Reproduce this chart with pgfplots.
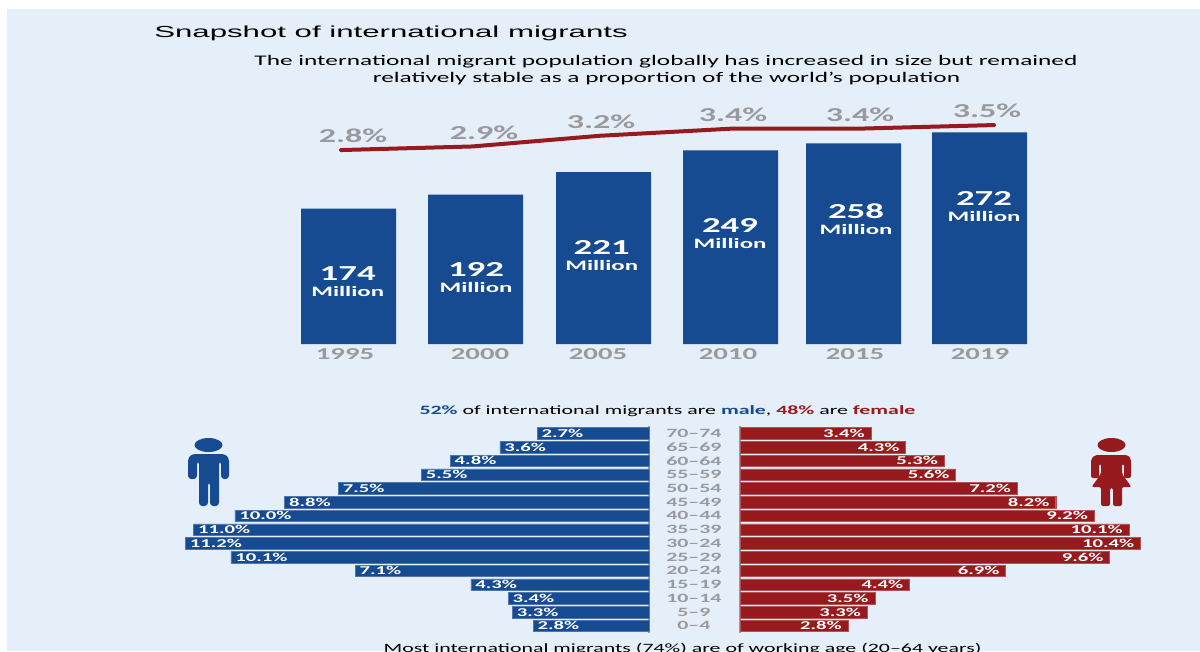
\documentclass[border=0pt]{standalone}
\usepackage{fontspec}
\usepackage{pgfplots}
\usepackage{pgfplotstable}
\pgfplotsset{compat=1.18}
\setmainfont[FakeStretch=1.725]{Carlito}
\newfontfamily\headfont[FakeStretch=1.95]{Liberation Sans}
\definecolor{panel}{HTML}{E4EFF9}
\definecolor{mblue}{HTML}{164A91}
\definecolor{fred}{HTML}{971B1E}
\definecolor{lab}{HTML}{9A9A9E}
\newcommand{\fsz}[1]{\fontsize{#1}{#1}\selectfont}
\newcommand{\pctlabel}{\pgfmathprintnumber[assume math mode=true,fixed,fixed zerofill,precision=1]{\pgfplotspointmeta}\%}

% stock of migrants (millions): slot, value
\pgfplotstableread{
x   v
348.5 174
475.5 192
603.5 221
730.5 249
853.5 258
979.5 272
}\stocktable
% where the two-line captions of the columns sit: x, y, value
\pgfplotstableread{
x   y   v
347.7 80.5 174
476 85.6 192
601.7 113.7 221
730 142.2 249
856 160.2 258
984 176.9 272
}\stockcaps
% share of world population (per cent)
\pgfplotstableread{
x   v
341 2.8
472 2.9
600 3.2
732 3.4
860 3.4
994 3.5
}\sharetable
\pgfplotstableread{
x   v
353 2.8
484 2.9
601 3.2
733 3.4
860 3.4
987 3.5
}\sharecaps
% age pyramid, youngest group first
\pgfplotstableread{
age male female
0 2.8 2.8
1 3.3 3.3
2 3.4 3.5
3 4.3 4.4
4 7.1 6.9
5 10.1 9.6
6 11.2 10.4
7 11.0 10.1
8 10.0 9.2
9 8.8 8.2
10 7.5 7.2
11 5.5 5.6
12 4.8 5.3
13 3.6 4.3
14 2.7 3.4
}\pyramid

\pgfplotsset{
  canvas/.style={scale only axis, clip=false, anchor=south west},
}

\begin{document}
\begin{tikzpicture}[x=0.75pt,y=-0.75pt]
\clip (0,0) rectangle (1200,651);
\fill[white] (0,0) rectangle (1200,651);
\fill[panel] (7,9) rectangle (1200,651);

% headings
\node[anchor=base west,inner sep=0,font=\headfont\fsz{12pt}] at (154,37) {Snapshot of international migrants};
\node[anchor=center,inner sep=0,font=\fsz{11pt}] at (666,62) {The international migrant population globally has increased in size but remained};
\node[anchor=center,inner sep=0,font=\fsz{11pt}] at (666.5,79) {relatively stable as a proportion of the world’s population};
\node[anchor=center,inner sep=0,font=\fsz{9.5pt}] at (667.5,411.5) {\textcolor{mblue}{\bfseries 52\%} of international migrants are \textcolor{mblue}{\bfseries male}, \textcolor{fred}{\bfseries 48\%} are \textcolor{fred}{\bfseries female}};
\node[anchor=center,inner sep=0,font=\fsz{9.5pt}] at (682.5,649) {Most international migrants (74\%) are of working age (20–64 years)};

% number of migrants
\begin{axis}[canvas, at={(0pt,-258pt)}, width=900pt, height=175.05pt,
  xmin=0, xmax=1200, ymin=0, ymax=300,
  axis x line=bottom, axis y line=none,
  axis line style={draw=none}, major tick length=0pt,
  xtick={345,480,598,728,855,980},
  xticklabels={1995,2000,2005,2010,2015,2019},
  xticklabel style={font=\bfseries\fsz{12.5pt}, text=lab, inner sep=0pt, anchor=center, yshift=-7.2pt},
  ymajorticks=false]
\addplot[ybar, bar width=71.25pt, fill=mblue, draw=none, bar shift=0pt] table[x=x,y=v] {\stocktable};
\addplot[draw=none, mark=none,
  point meta=explicit,
  nodes near coords={{\fsz{16pt}\pgfmathprintnumber[assume math mode=true]{\pgfplotspointmeta}}\\[0pt]{\fsz{10.8pt}Million}},
  nodes near coords align={center},
  every node near coord/.style={anchor=center, inner sep=0pt, align=center, text=white, font=\bfseries}
  ] table[x=x,y=y,meta=v] {\stockcaps};
\end{axis}

% share of world population
\begin{axis}[canvas, at={(0pt,-133.95pt)}, width=900pt, height=53.55pt,
  xmin=0, xmax=1200, ymin=2, ymax=4, hide axis]
\addplot[fred, line width=3pt, line cap=round, line join=round] table[x=x,y=v] {\sharetable};
\addplot[draw=none, mark=none, point meta=explicit,
  nodes near coords={\pctlabel},
  every node near coord/.style={anchor=center, inner sep=0pt, yshift=10.6pt, text=lab, font=\bfseries\fsz{14.8pt}}
  ] table[x=x,y=v,meta=v] {\sharecaps};
\end{axis}

% age pyramid, men
\begin{axis}[canvas, at={(114.15pt,-474.5pt)}, width=372.6pt, height=154.7pt,
  x dir=reverse, xmin=0, xmax=12, ymin=-0.5, ymax=14.5,
  axis x line=none, axis y line*=right,
  y axis line style={draw=lab, line width=1.5pt, -},
  ytick=\empty, major tick length=0pt]
\addplot[xbar, bar width=8.6pt, bar shift=0pt, fill=mblue, draw=mblue!75!white, line width=0.3pt,
  nodes near coords={\pctlabel},
  every node near coord/.style={anchor=west, inner sep=0pt, xshift=3.2pt, text=white, font=\bfseries\fsz{9pt}}
  ] table[x=male,y=age] {\pyramid};
\end{axis}

% age pyramid, women, with the age groups between the two halves
\begin{axis}[canvas, at={(555pt,-474.5pt)}, width=346.5pt, height=154.7pt,
  xmin=0, xmax=12, ymin=-0.5, ymax=14.5,
  axis x line=none, axis y line*=left,
  y axis line style={draw=lab, line width=1.5pt, -},
  major tick length=0pt,
  ytick={0,...,14},
  yticklabels={0–4,5–9,10–14,15–19,20–24,25–29,30–24,35–39,40–44,45–49,50–54,55–59,60–64,65–69,70–74},
  yticklabel style={font=\bfseries\fsz{9.5pt}, text=lab, inner sep=0pt, anchor=center, xshift=-34.6pt}]
\addplot[xbar, bar width=8.6pt, bar shift=0pt, fill=fred, draw=fred!75!white, line width=0.3pt,
  nodes near coords={\pctlabel},
  every node near coord/.style={anchor=east, inner sep=0pt, xshift=-4.5pt, text=white, font=\bfseries\fsz{9pt}}
  ] table[x=female,y=age] {\pyramid};
\end{axis}

% figures beside the pyramid
\fill[mblue] (208.5,445) ellipse[x radius=14, y radius=7];
\fill[mblue,rounded corners=2.5] (192,454) -- (225,454) -- (229,458) -- (229,479) -- (221,479) -- (221,461) -- (219,461) -- (219,506) -- (210,506) -- (210,482) -- (208,482) -- (208,506) -- (199,506) -- (199,461) -- (197,461) -- (197,479) -- (188,479) -- (188,458) -- cycle;
\fill[fred] (1111.5,445) ellipse[x radius=14, y radius=7];
\fill[fred,rounded corners=1.5] (1095,455) -- (1128,455) -- (1131,459) -- (1131,478) -- (1124,478) -- (1124,464) -- (1122,464) -- (1122,474) -- (1131.5,487) -- (1122,487) -- (1122,506) -- (1113,506) -- (1113,488) -- (1110,488) -- (1110,506) -- (1101,506) -- (1101,487) -- (1091.5,487) -- (1101,474) -- (1101,464) -- (1099,464) -- (1099,478) -- (1091,478) -- (1091,459) -- cycle;
\end{tikzpicture}
\end{document}
